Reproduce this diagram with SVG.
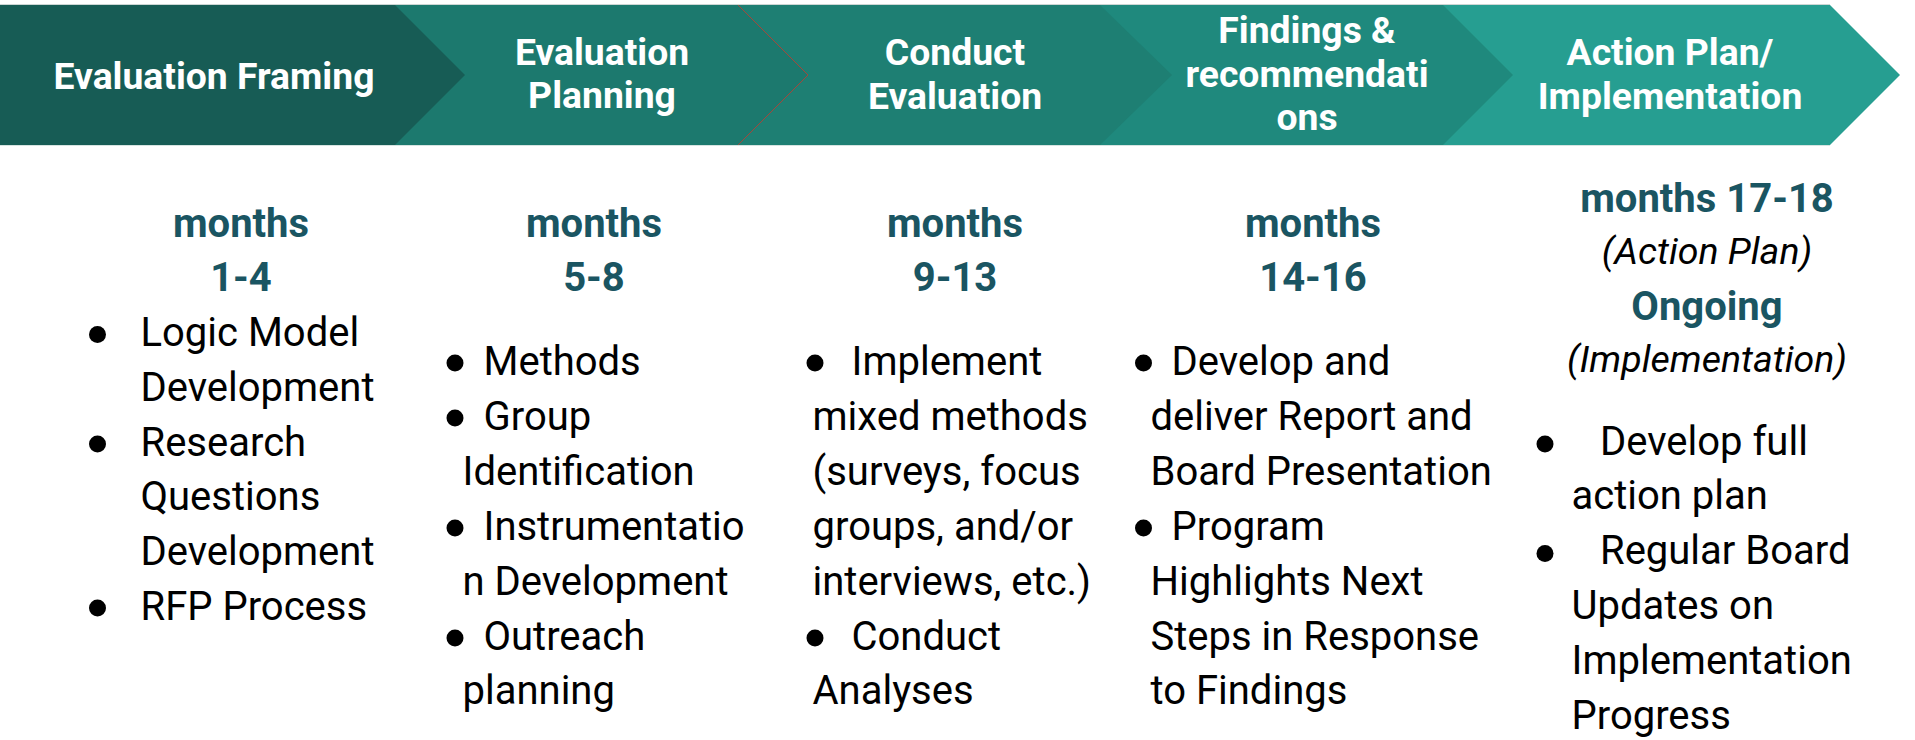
<svg xmlns="http://www.w3.org/2000/svg" width="1915" height="740" viewBox="0 0 1915 740">
<style>
.hd{font-family:Roboto,"Liberation Sans",sans-serif;font-weight:700;font-size:37.3px;fill:#ffffff;text-anchor:middle}
.mo{font-family:Roboto,"Liberation Sans",sans-serif;font-weight:700;font-size:40px;fill:#1a5562;text-anchor:middle}
.it{font-family:Roboto,"Liberation Sans",sans-serif;font-style:italic;font-size:37.5px;fill:#000;text-anchor:middle}
.bd{font-family:Roboto,"Liberation Sans",sans-serif;font-size:40px;fill:#000}
.bl{fill:#000}
</style>
<rect width="1915" height="740" fill="#ffffff"/>
<line x1="0" y1="4.5" x2="1830" y2="4.5" stroke="#cdd6d4" stroke-width="1"/>
<line x1="0" y1="145.5" x2="1830" y2="145.5" stroke="#d6e4e1" stroke-width="1"/>
<g id="banner">
<g id="stage5"><polygon points="1443,5 1830,5 1900,75 1830,145 1443,145" fill="#269e91"/>
<text class="hd" x="1670" y="65">Action Plan/</text><text class="hd" x="1670" y="109">Implementation</text></g>
<g id="stage4"><polygon points="1100,5 1443,5 1513,75 1443,145 1100,145" fill="#1f897d"/>
<text class="hd" x="1307" y="43">Findings &amp;</text><text class="hd" x="1307" y="87">recommendati</text><text class="hd" x="1307" y="130">ons</text></g>
<g id="stage3"><polygon points="738,5 1100,5 1172,75 1100,145 738,145" fill="#1e7f73"/>
<text class="hd" x="955" y="65">Conduct</text><text class="hd" x="955" y="109">Evaluation</text></g>
<g id="stage2"><polygon points="395,5 738,5 808,75 738,145 395,145" fill="#1c796e"/>
<polyline points="738,5 808,75 738,145" fill="none" stroke="#a3473b" stroke-width="1"/>
<text class="hd" x="602" y="65">Evaluation</text><text class="hd" x="602" y="108">Planning</text></g>
<g id="stage1"><polygon points="0,5 395,5 465,75 395,145 0,145" fill="#175c55"/>
<text class="hd" x="214" y="89">Evaluation Framing</text></g>
</g>
<g id="col1">
<text class="mo" x="241" y="236.5">months</text><text class="mo" x="241" y="291">1-4</text>
<circle class="bl" cx="97.5" cy="334.5" r="8.5"/><circle class="bl" cx="97.5" cy="444" r="8.5"/><circle class="bl" cx="97.5" cy="608" r="8.5"/>
<text class="bd" x="140.5" y="346.2">Logic Model</text>
<text class="bd" x="140.5" y="400.9">Development</text>
<text class="bd" x="140.5" y="455.6">Research</text>
<text class="bd" x="140.5" y="510.3">Questions</text>
<text class="bd" x="140.5" y="565">Development</text>
<text class="bd" x="140.5" y="619.7">RFP Process</text>
</g>
<g id="col2">
<text class="mo" x="594" y="236.5">months</text><text class="mo" x="594" y="291">5-8</text>
<circle class="bl" cx="455" cy="363" r="8.5"/><circle class="bl" cx="455" cy="418" r="8.5"/><circle class="bl" cx="455" cy="528" r="8.5"/><circle class="bl" cx="455" cy="638" r="8.5"/>
<text class="bd" x="483.5" y="375">Methods</text>
<text class="bd" x="483.5" y="429.9">Group</text>
<text class="bd" x="462.5" y="484.8">Identification</text>
<text class="bd" x="483.5" y="539.7">Instrumentatio</text>
<text class="bd" x="462.5" y="594.6">n Development</text>
<text class="bd" x="483.5" y="649.5">Outreach</text>
<text class="bd" x="462.5" y="704.4">planning</text>
</g>
<g id="col3">
<text class="mo" x="955" y="236.5">months</text><text class="mo" x="955" y="291">9-13</text>
<circle class="bl" cx="815" cy="363" r="8.5"/><circle class="bl" cx="815" cy="638" r="8.5"/>
<text class="bd" x="851.5" y="375">Implement</text>
<text class="bd" x="812.5" y="429.9">mixed methods</text>
<text class="bd" x="812.5" y="484.8">(surveys, focus</text>
<text class="bd" x="812.5" y="539.7">groups, and/or</text>
<text class="bd" x="812.5" y="594.6">interviews, etc.)</text>
<text class="bd" x="851.5" y="649.5">Conduct</text>
<text class="bd" x="812.5" y="704.4">Analyses</text>
</g>
<g id="col4">
<text class="mo" x="1313" y="236.5">months</text><text class="mo" x="1313" y="291">14-16</text>
<circle class="bl" cx="1143.5" cy="363" r="8.5"/><circle class="bl" cx="1143.5" cy="528" r="8.5"/>
<text class="bd" x="1171.5" y="375">Develop and</text>
<text class="bd" x="1150.5" y="429.9">deliver Report and</text>
<text class="bd" x="1150.5" y="484.8">Board Presentation</text>
<text class="bd" x="1171.5" y="539.7">Program</text>
<text class="bd" x="1150.5" y="594.6">Highlights Next</text>
<text class="bd" x="1150.5" y="649.5">Steps in Response</text>
<text class="bd" x="1150.5" y="704.4">to Findings</text>
</g>
<g id="col5">
<text class="mo" x="1707" y="211.5">months 17-18</text>
<text class="it" x="1707" y="264">(Action Plan)</text>
<text class="mo" x="1707" y="319.5">Ongoing</text>
<text class="it" x="1707" y="371.5">(Implementation)</text>
<circle class="bl" cx="1545" cy="444" r="8.5"/><circle class="bl" cx="1545" cy="553.5" r="8.5"/>
<text class="bd" x="1600" y="454.5">Develop full</text>
<text class="bd" x="1571.5" y="509.3">action plan</text>
<text class="bd" x="1600" y="564.1">Regular Board</text>
<text class="bd" x="1571.5" y="618.9">Updates on</text>
<text class="bd" x="1571.5" y="673.7">Implementation</text>
<text class="bd" x="1571.5" y="728.5">Progress</text>
</g>
</svg>
